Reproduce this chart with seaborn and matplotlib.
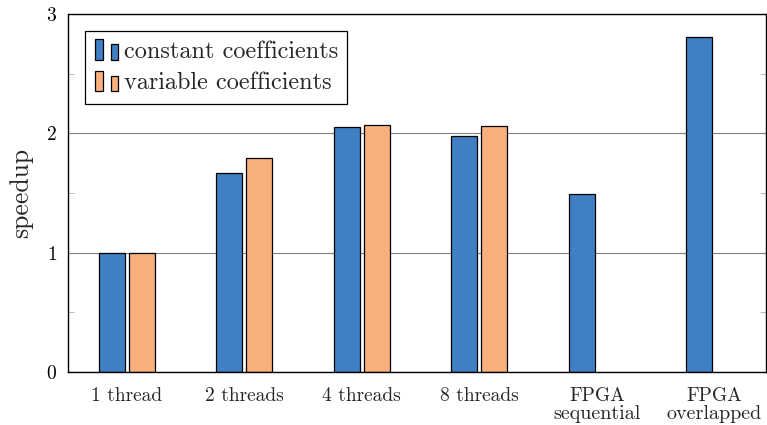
import matplotlib
matplotlib.use("Agg")
import matplotlib.pyplot as plt
import seaborn as sns
import numpy as np
import pandas as pd
from matplotlib.legend_handler import HandlerBase
from matplotlib.patches import Rectangle
from matplotlib.transforms import blended_transform_factory

# Data
categories = ["1 thread", "2 threads", "4 threads", "8 threads", "FPGA", "FPGA"]
sublabels = ["", "", "", "", "sequential", "overlapped"]
constant_coeff = [1.0, 1.67, 2.05, 1.98, 1.49, 2.81]
variable_coeff = [1.0, 1.79, 2.07, 2.06, np.nan, np.nan]
series_names = ["constant coefficients", "variable coefficients"]
yticks = [0, 1, 2, 3]

# long form table for seaborn
positions = [f"c{i}" for i in range(len(categories))]
df = pd.DataFrame({
    "pos": positions * 2,
    "speedup": constant_coeff + variable_coeff,
    "series": [series_names[0]] * len(positions) + [series_names[1]] * len(positions),
})

sns.set_style("white")
plt.rcParams["font.family"] = ["cmr10", "DejaVu Serif"]
plt.rcParams["mathtext.fontset"] = "cm"
plt.rcParams["axes.unicode_minus"] = False
plt.rcParams["axes.formatter.use_mathtext"] = True

blue = "#3f7fc4"
orange = "#f8b07c"

fig = plt.figure(figsize=(7.67, 4.25), dpi=100)
ax = fig.add_axes([68 / 767, 1 - 372 / 425, 698 / 767, 358 / 425])

sns.barplot(data=df, x="pos", y="speedup", hue="series", order=positions,
            palette=[blue, orange], saturation=1, width=0.512, gap=0.14,
            edgecolor="black", linewidth=0.9, ax=ax, legend=False)

ax.set_xlim(-0.5, 5.44)
ax.set_ylim(0, 3)
ax.set_yticks(yticks)
ax.set_yticks([0.5, 1.5, 2.5], minor=True)
ax.yaxis.grid(True, which="major", color="#808080", lw=0.8)
ax.set_axisbelow(True)
ax.tick_params(axis="y", which="both", direction="in", left=True, right=True,
               labelsize=14, colors="black")
ax.tick_params(axis="y", which="major", length=0, pad=8)
ax.tick_params(axis="y", which="minor", length=4, color="#b0b0b0")
ax.tick_params(axis="x", length=0, labelsize=14, pad=11)
ax.set_xticks(range(len(categories)))
ax.set_xticklabels(categories)
ax.set_xlabel("")
ax.set_ylabel("speedup", fontsize=18.5, labelpad=9)
for s in ax.spines.values():
    s.set_color("black")
    s.set_linewidth(1.0)

trans = blended_transform_factory(ax.transData, ax.transAxes)
for i, sub in enumerate(sublabels):
    if sub:
        ax.text(i, -0.092, sub, transform=trans, ha="center", va="top", fontsize=14.5)


class TwoBarHandler(HandlerBase):
    # two small bars side by side, sizes in points
    def create_artists(self, legend, orig_handle, xdescent, ydescent,
                       width, height, fontsize, trans):
        fc = orig_handle.get_facecolor()
        x0 = -xdescent
        y0 = -ydescent - 1.5
        r1 = Rectangle((x0, y0), 6.3, 15.0, facecolor=fc, edgecolor="black",
                       lw=0.9, transform=trans)
        r2 = Rectangle((x0 + 11.5, y0), 5.0, 11.5, facecolor=fc, edgecolor="black",
                       lw=0.9, transform=trans)
        return [r1, r2]


handles = [Rectangle((0, 0), 1, 1, facecolor=blue), Rectangle((0, 0), 1, 1, facecolor=orange)]
leg = ax.legend(handles, series_names, handler_map={Rectangle: TwoBarHandler()},
                loc="upper left", bbox_to_anchor=(0.025, 0.952), borderaxespad=0,
                fontsize=17.5, frameon=True, fancybox=False, framealpha=1,
                edgecolor="black", handlelength=0.95, handletextpad=0.25,
                labelspacing=0.4, borderpad=0.38)
leg.get_frame().set_linewidth(0.9)

fig.savefig("out.png", dpi=100)
